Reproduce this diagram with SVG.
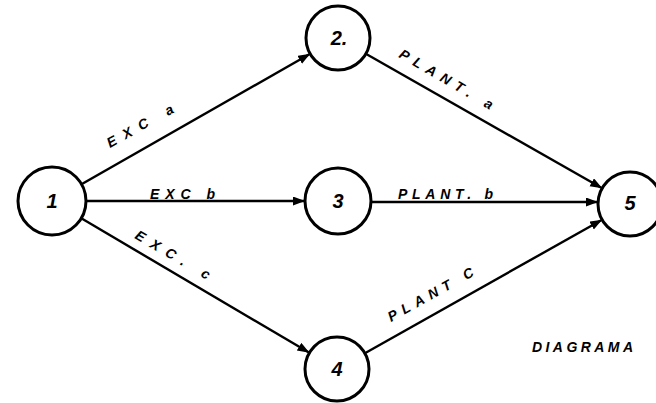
<svg xmlns="http://www.w3.org/2000/svg" width="656" height="403" viewBox="0 0 656 403">
<style>
.node{fill:#fff;stroke:#000;stroke-width:3}
.edge{fill:none;stroke:#000;stroke-width:2.4;marker-end:url(#ah)}
.nl{font-family:"Liberation Sans",Arial,sans-serif;font-style:italic;font-weight:bold;font-size:20px;text-anchor:middle;fill:#000}
.el{font-family:"Liberation Sans",Arial,sans-serif;font-style:italic;font-weight:bold;font-size:14px;fill:#000}
</style>
<defs>
<marker id="ah" markerUnits="userSpaceOnUse" markerWidth="13" markerHeight="10" refX="12" refY="4.5" orient="auto">
<path d="M0,0 L12,4.5 L0,9 z" fill="#000"/>
</marker>
</defs>
<rect width="656" height="403" fill="#fff"/>
<g id="connectors">
<line class="edge" x1="81.5" y1="184.2" x2="310.2" y2="53.8"/>
<line class="edge" x1="86" y1="201" x2="305" y2="201"/>
<line class="edge" x1="81.3" y1="218.3" x2="309.4" y2="352.8"/>
<line class="edge" x1="365.8" y1="53.8" x2="602.2" y2="188.2"/>
<line class="edge" x1="371" y1="202" x2="598" y2="202"/>
<line class="edge" x1="364.9" y1="353.3" x2="602.1" y2="219.7"/>
<text class="el" transform="translate(110,148) rotate(-29)" textLength="74" lengthAdjust="spacing">EXC a</text>
<text class="el" x="150" y="199" textLength="65" lengthAdjust="spacing">EXC b</text>
<text class="el" transform="translate(134,238) rotate(30)" textLength="84" lengthAdjust="spacing">EXC. c</text>
<text class="el" transform="translate(398,57) rotate(30)" textLength="106" lengthAdjust="spacing">PLANT. a</text>
<text class="el" x="398" y="199" textLength="95" lengthAdjust="spacing">PLANT. b</text>
<text class="el" transform="translate(391,322) rotate(-29)" textLength="96" lengthAdjust="spacing">PLANT C</text>
</g>
<g id="n1"><circle class="node" cx="52" cy="201" r="34"/><text class="nl" x="52" y="208">1</text></g>
<g id="n2"><circle class="node" cx="338" cy="38" r="32"/><text class="nl" x="339" y="45">2.</text></g>
<g id="n3"><circle class="node" cx="338" cy="201" r="33"/><text class="nl" x="338" y="208">3</text></g>
<g id="n4"><circle class="node" cx="337" cy="369" r="32"/><text class="nl" x="337" y="376">4</text></g>
<g id="n5"><circle class="node" cx="630" cy="204" r="32"/><text class="nl" x="630" y="210">5</text></g>
<text class="el" x="532" y="352" font-size="16" textLength="101" lengthAdjust="spacing">DIAGRAMA</text>
</svg>
